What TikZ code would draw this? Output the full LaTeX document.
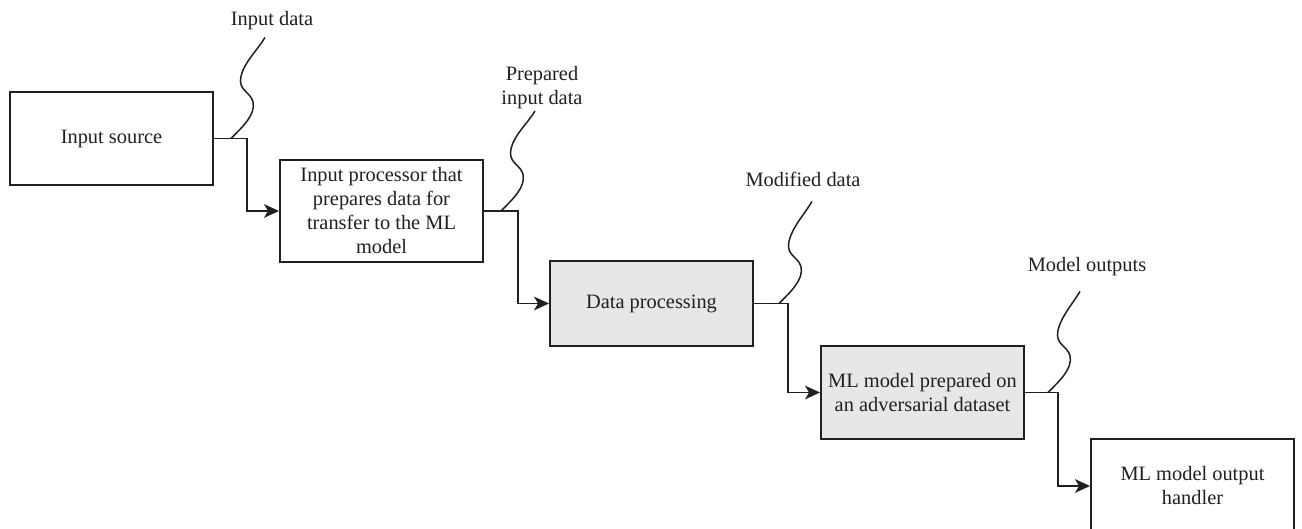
\documentclass[tikz,border=0pt]{standalone}
\usepackage{fontspec}
\setmainfont{Liberation Serif}
\usetikzlibrary{arrows.meta,calc}
\definecolor{ink}{HTML}{231F20}
\definecolor{boxgray}{HTML}{E6E7E8}
\begin{document}
\begin{tikzpicture}[x=0.5pt,y=-0.5pt,
  every node/.style={font=\fontsize{10.2}{12}\selectfont, text=ink},
  box/.style={draw=ink, line width=0.95pt, fill=white, align=center, inner sep=0pt, minimum width=101.5pt},
  graybox/.style={box, fill=boxgray},
  conn/.style={draw=ink, line width=0.95pt, -{Stealth[length=7.5pt,width=6.8pt,inset=2pt]}},
  squig/.style={draw=ink, line width=0.75pt, to path={
    .. controls ($(\tikztostart)+(12,-12)$) and ($(\tikztostart)+(25,-24)$) .. ($(\tikztostart)+(22,-37)$)
    .. controls ($(\tikztostart)+(19,-47)$) and ($(\tikztostart)+(7,-48)$) .. ($(\tikztostart)+(10,-62)$)
    .. controls ($(\tikztostart)+(13,-76)$) and ($(\tikztotarget)+(-7,12)$) .. (\tikztotarget)}},
  lbl/.style={align=center, inner sep=0pt}
]
\useasboundingbox (0,0) rectangle (1302,529);
\clip (0,0) rectangle (1302,529);

% boxes
\node[box, minimum height=46.5pt] (b1) at (111.5,138.5) {Input source};
\node[box, minimum height=51pt] (b2) at (381.5,211) {Input processor that\\prepares data for\\transfer to the ML\\model};
\node[graybox, minimum height=42.5pt] (b3) at (651.5,303.5) {Data processing};
\node[graybox, minimum height=46.5pt] (b4) at (922.5,392.5) {ML model prepared on\\an adversarial dataset};
\node[box, minimum height=47pt] (b5) at (1192.5,486) {ML model output\\handler};

% labels
\node[lbl] (l1) at (272,21) {Input data};
\node[lbl] (l2) at (542,88) {Prepared\\input data};
\node[lbl] (l3) at (803,179) {Modified data};
\node[lbl] (l4) at (1087,267) {Model outputs};

% connectors
\draw[conn] (b1.east) -- ++(33,0) |- (b2.west);
\draw[conn] (b2.east) -- ++(34,0) |- (b3.west);
\draw[conn] (b3.east) -- ++(34,0) |- (b4.west);
\draw[conn] (b4.east) -- ++(33,0) |- (b5.west);

% squiggle anchors
\coordinate (s1) at ($(b1.east)+(17,0)$);
\coordinate (t1) at ($(s1)+(34,-101)$);
\coordinate (s2) at ($(b2.east)+(17,0)$);
\coordinate (t2) at ($(s2)+(34,-100)$);
\coordinate (s3) at ($(b3.east)+(25,0)$);
\coordinate (t3) at ($(s3)+(33,-102)$);
\coordinate (s4) at ($(b4.east)+(23,0)$);
\coordinate (t4) at ($(s4)+(32,-101)$);

\draw[squig] (s1) to (t1);
\draw[squig] (s2) to (t2);
\draw[squig] (s3) to (t3);
\draw[squig] (s4) to (t4);
\end{tikzpicture}
\end{document}
